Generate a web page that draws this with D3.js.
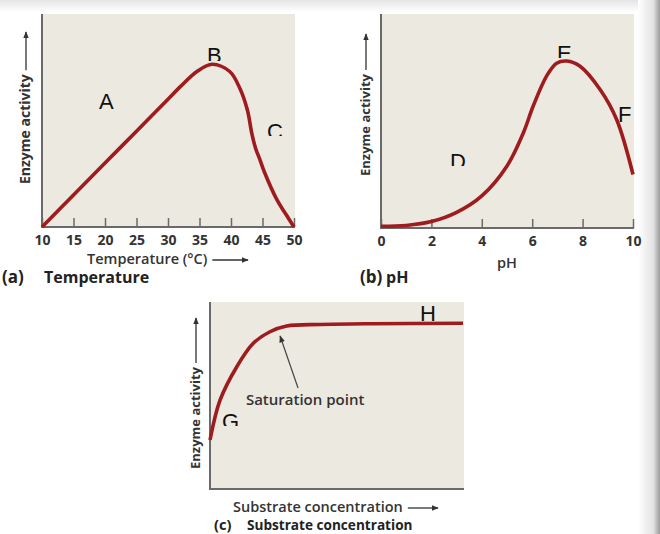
<!DOCTYPE html>
<html>
<head>
<meta charset="utf-8">
<script src="https://cdn.jsdelivr.net/npm/d3@7"></script>
<style>
  body { margin: 0; background: #fff; }
  svg { display: block; font-family: "Open Sans", sans-serif; }
</style>
</head>
<body>
<script>
// (a) temperature curve
const tempC = [10, 15, 20, 25, 30, 32, 34.6, 37, 39.8, 41.4, 42.6, 43.3, 43.9, 44.6, 45.3, 47.3, 48.8, 50];
const tempActivity = [0, 15, 30, 45, 60, 66, 73, 76.4, 73, 65.1, 54.9, 44, 37, 31.5, 25.8, 12.7, 5.6, 0];
const tempTicks = [10, 15, 20, 25, 30, 35, 40, 45, 50];

// (b) pH curve
const phValues = [0, 1, 2, 3, 4, 5, 5.65, 6.04, 6.57, 6.97, 7.37, 7.9, 8.7, 9.35, 10];
const phActivity = [0.8, 1.2, 3, 7.3, 15, 29, 44.5, 57, 71, 77, 78, 75.6, 64.6, 50.7, 25];
const phTicks = [0, 2, 4, 6, 8, 10];

// (c) substrate curve (no tick values on this axis)
const substrate = [0, 0.4, 1.06, 1.71, 2.37, 3.03, 4.35, 6.32, 10];
const substrateActivity = [26.2, 47.6, 65.4, 77.9, 84.1, 87.2, 88, 88.4, 88.6];

// letter notes, in data units of each panel
const tempNotes = [["A", 19.05, 55.4, 0], ["B", 36.2, 77, 2], ["C", 45.7, 41.3, 3]];
const phNotes = [["D", 2.74, 27.6, 3], ["E", 6.98, 78, 3], ["F", 9.4, 49.5, 0]];
const subNotes = [["G", 0.47, 32.1, 3], ["H", 8.3, 89.8, 0]];
const saturation = {label: "Saturation point", text: [1.42, 44.9], from: [3.48, 54], to: [2.77, 81.8]};

const W = 660, H = 534;
const curveColor = "#9e1b1e";
const axisColor = "#6a6a6a";
const bgColor = "#ece9e1";
const textColor = "#333";

var svg = d3.select("body").append("svg")
    .attr("width", W)
    .attr("height", H);

var defs = svg.append("defs");

defs.append("marker")
    .attr("id", "head")
    .attr("viewBox", "0 0 10 10")
    .attr("refX", 9).attr("refY", 5)
    .attr("markerWidth", 7).attr("markerHeight", 7)
    .attr("markerUnits", "userSpaceOnUse")
    .attr("orient", "auto")
  .append("path")
    .attr("d", "M0,1 L10,5 L0,9 Z")
    .attr("fill", "#333");

// faint page shadows along top and right edge
var topGrad = defs.append("linearGradient").attr("id", "topShade")
    .attr("x1", "0%").attr("y1", "0%").attr("x2", "0%").attr("y2", "100%");
topGrad.append("stop").attr("offset", "0%").attr("stop-color", "#e4e4e4");
topGrad.append("stop").attr("offset", "100%").attr("stop-color", "#ffffff");
var rightGrad = defs.append("linearGradient").attr("id", "rightShade")
    .attr("x1", "0%").attr("y1", "0%").attr("x2", "100%").attr("y2", "0%");
rightGrad.append("stop").attr("offset", "0%").attr("stop-color", "#ffffff");
rightGrad.append("stop").attr("offset", "70%").attr("stop-color", "#e2e2e2");
rightGrad.append("stop").attr("offset", "100%").attr("stop-color", "#9a9a9a");

svg.append("rect").attr("x", 0).attr("y", 0).attr("width", W).attr("height", 12)
    .attr("fill", "url(#topShade)");
svg.append("rect").attr("x", 638).attr("y", 0).attr("width", 22).attr("height", H)
    .attr("fill", "url(#rightShade)");

var clipCount = 0;

function drawPanel(p) {
    var x = d3.scaleLinear().domain(p.xDomain).range([p.left, p.right]);
    var y = d3.scaleLinear().domain([0, 100]).range([p.bottom, p.top]);
    var g = svg.append("g");

    g.append("rect")
        .attr("x", p.left).attr("y", p.top)
        .attr("width", p.right - p.left + 1)
        .attr("height", p.bottom - p.top)
        .attr("fill", bgColor);

    // ticks point inward, labels under the axis
    if (p.ticks) {
        var xAxis = d3.axisBottom(x).tickValues(p.ticks).tickSizeInner(-9).tickSizeOuter(0).tickPadding(8);
        var ax = g.append("g")
            .attr("transform", "translate(0," + p.bottom + ")")
            .call(xAxis);
        ax.attr("font-family", null).attr("font-size", null);
        ax.select(".domain").remove();
        ax.selectAll(".tick line").attr("stroke", axisColor).attr("stroke-width", 1.5);
        ax.selectAll(".tick text")
            .attr("fill", textColor)
            .style("font-family", "'Open Sans', sans-serif")
            .style("font-size", "14px")
            .style("font-weight", "700");
    }

    // axis lines
    g.append("path")
        .attr("d", "M" + p.left + "," + p.top + "V" + p.bottom + "H" + (p.right + 1))
        .attr("fill", "none")
        .attr("stroke", axisColor)
        .attr("stroke-width", 2);

    var line = d3.line()
        .x(function(d) { return x(d[0]); })
        .y(function(d) { return y(d[1]); })
        .curve(d3.curveCatmullRom.alpha(0.5));

    g.append("path")
        .datum(d3.zip(p.xs, p.ys))
        .attr("d", line)
        .attr("fill", "none")
        .attr("stroke", curveColor)
        .attr("stroke-width", 3.6)
        .attr("stroke-linejoin", "round");

    // letters, some of them cut off at the bottom like the original
    p.notes.forEach(function(n) {
        var bx = x(n[1]), by = y(n[2]);
        var t = g.append("text")
            .attr("x", bx).attr("y", by)
            .style("font-family", "'Liberation Sans', Arial, sans-serif")
            .style("font-size", "22px")
            .attr("fill", "#111")
            .text(n[0]);
        if (n[3] > 0) {
            var id = "cut" + (clipCount++);
            defs.append("clipPath").attr("id", id)
              .append("rect")
                .attr("x", bx - 5).attr("y", by - 30)
                .attr("width", 30).attr("height", 30 - n[3]);
            t.attr("clip-path", "url(#" + id + ")");
        }
    });

    // y title with arrow
    var yt = g.append("text")
        .style("font-size", p.yFont + "px")
        .style("font-weight", "700")
        .attr("fill", textColor)
        .attr("transform", "translate(" + p.yBase + "," + p.yStart + ") rotate(-90)")
        .text("Enzyme activity");
    var len = yt.node().getComputedTextLength();
    g.append("line")
        .attr("x1", p.yBase - 4).attr("x2", p.yBase - 4)
        .attr("y1", p.yStart - len - 4).attr("y2", p.yArrowTop)
        .attr("stroke", "#333").attr("stroke-width", 1.3)
        .attr("marker-end", "url(#head)");

    // x title
    var xt = g.append("text")
        .style("font-size", "14.5px")
        .style("font-weight", "600")
        .attr("fill", textColor)
        .attr("x", p.xTitle[0]).attr("y", p.xTitle[1])
        .attr("text-anchor", p.xTitleArrow ? "start" : "middle")
        .text(p.xLabel);
    if (p.xTitleArrow) {
        var end = p.xTitle[0] + xt.node().getComputedTextLength();
        g.append("line")
            .attr("x1", end + 5).attr("x2", p.xTitleArrow)
            .attr("y1", p.xTitle[1] - 4).attr("y2", p.xTitle[1] - 4)
            .attr("stroke", "#333").attr("stroke-width", 1.3)
            .attr("marker-end", "url(#head)");
    }

    // caption: panel letter, then the name a little further right
    var cap = g.append("text")
        .style("font-size", p.capFont + "px")
        .style("font-weight", "700")
        .attr("fill", "#222")
        .attr("y", p.caption[1]);
    cap.append("tspan").attr("x", p.caption[0]).style("font-size", (p.capFont + 1) + "px").text(p.capTag);
    cap.append("tspan").attr("x", p.caption[2]).text(p.capText);

    return {g: g, x: x, y: y};
}

drawPanel({
    xDomain: [10, 50], left: 42, right: 294, top: 14, bottom: 227,
    xs: tempC, ys: tempActivity, ticks: tempTicks, notes: tempNotes,
    yBase: 30, yStart: 184, yArrowTop: 32, yFont: 14,
    xLabel: "Temperature (\u00B0C)", xTitle: [87, 264], xTitleArrow: 248,
    caption: [2, 283, 44], capFont: 16, capTag: "(a)", capText: "Temperature"
});

drawPanel({
    xDomain: [0, 10], left: 381, right: 633, top: 14, bottom: 228,
    xs: phValues, ys: phActivity, ticks: phTicks, notes: phNotes,
    yBase: 370, yStart: 176, yArrowTop: 34, yFont: 13,
    xLabel: "pH", xTitle: [507, 268], xTitleArrow: null,
    caption: [360, 283, 386], capFont: 16, capTag: "(b)", capText: "pH"
});

var c = drawPanel({
    xDomain: [0, 10], left: 210, right: 463, top: 302, bottom: 489,
    xs: substrate, ys: substrateActivity, ticks: null, notes: subNotes,
    yBase: 200, yStart: 469, yArrowTop: 318, yFont: 13,
    xLabel: "Substrate concentration", xTitle: [233, 512], xTitleArrow: 438,
    caption: [214, 530, 247], capFont: 13.6, capTag: "(c)", capText: "Substrate concentration"
});

// saturation point note
c.g.append("line")
    .attr("x1", c.x(saturation.from[0])).attr("y1", c.y(saturation.from[1]))
    .attr("x2", c.x(saturation.to[0])).attr("y2", c.y(saturation.to[1]))
    .attr("stroke", "#444").attr("stroke-width", 1.2)
    .attr("marker-end", "url(#head)");
c.g.append("text")
    .style("font-size", "15px")
    .style("font-weight", "600")
    .attr("fill", textColor)
    .attr("x", c.x(saturation.text[0])).attr("y", c.y(saturation.text[1]))
    .text(saturation.label);
</script>
</body>
</html>
